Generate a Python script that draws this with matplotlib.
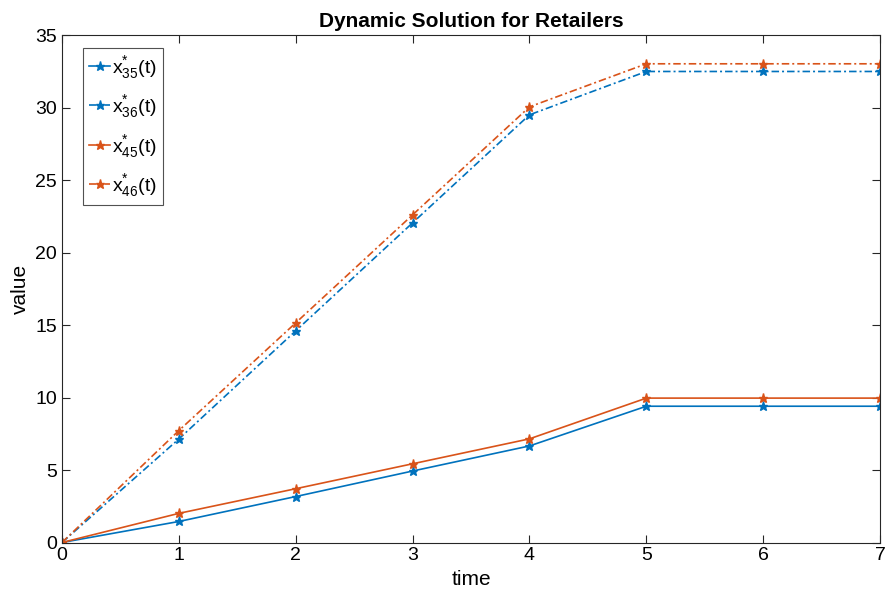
import matplotlib
matplotlib.use("Agg")
import matplotlib.pyplot as plt

t = [0, 1, 2, 3, 4, 5, 6, 7]
x35 = [0, 1.45, 3.17, 4.93, 6.66, 9.40, 9.40, 9.40]
x36 = [0, 7.14, 14.60, 22.05, 29.50, 32.49, 32.49, 32.49]
x45 = [0, 2.01, 3.71, 5.43, 7.15, 9.96, 9.96, 9.96]
x46 = [0, 7.72, 15.15, 22.60, 30.05, 33.02, 33.02, 33.02]
labels = [r"x$^{*}_{35}$(t)", r"x$^{*}_{36}$(t)", r"x$^{*}_{45}$(t)", r"x$^{*}_{46}$(t)"]

plt.rcParams['font.family'] = ['Liberation Sans', 'DejaVu Sans']
plt.rcParams['mathtext.default'] = 'regular'

blue = '#0072BD'
orange = '#D95319'
dashdot = (0, (4.5, 1.8, 1.2, 1.8))

fig = plt.figure(figsize=(8.89, 6.05), dpi=100)
ax = fig.add_axes([0.0697, 0.1033, 0.9203, 0.8387])

kw = dict(marker='*', markersize=6.5, linewidth=1.2)
ax.plot(t, x35, linestyle='-', color=blue, label=labels[0], **kw)
ax.plot(t, x36, linestyle=dashdot, color=blue, label=labels[1], **kw)
ax.plot(t, x45, linestyle='-', color=orange, label=labels[2], **kw)
ax.plot(t, x46, linestyle=dashdot, color=orange, label=labels[3], **kw)

ax.set_xlim(0, 7)
ax.set_ylim(0, 35)
ax.set_xticks(range(0, 8))
ax.set_yticks(range(0, 36, 5))
ax.tick_params(direction='in', labelsize=14, length=6, width=0.8, top=True, right=True, colors='#262626')
ax.tick_params(labelcolor='black')
for s in ax.spines.values():
    s.set_color('#262626')
    s.set_linewidth(0.8)

ax.set_xlabel('time', fontsize=15, labelpad=4)
ax.set_ylabel('value', fontsize=15, labelpad=4)
ax.set_title('Dynamic Solution for Retailers', fontsize=15, fontweight='bold', pad=6)

leg = ax.legend(loc='upper left', bbox_to_anchor=(0.026, 0.975), fontsize=14, frameon=True,
                fancybox=False, edgecolor='#262626', handlelength=1.1, handletextpad=0.1,
                borderpad=0.3, labelspacing=0.65, borderaxespad=0)
leg.get_frame().set_linewidth(0.8)

fig.savefig('out.png', dpi=100)
